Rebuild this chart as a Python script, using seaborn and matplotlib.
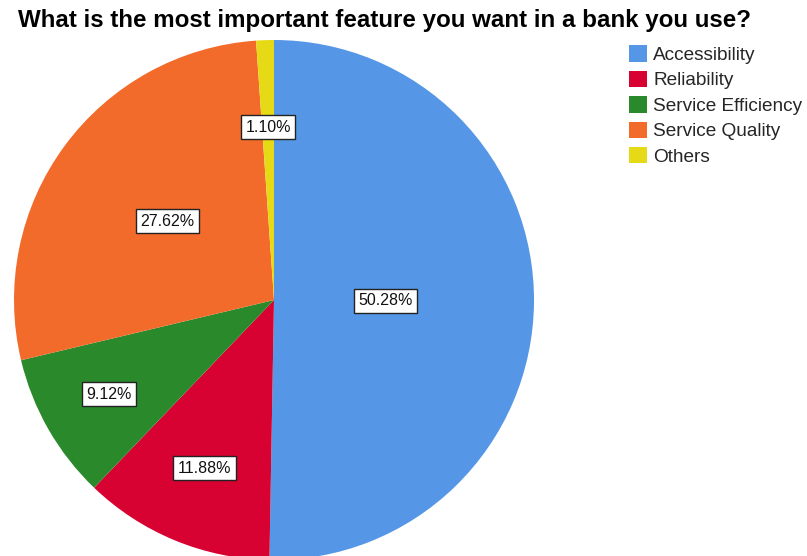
import numpy as np
import matplotlib
matplotlib.use("Agg")
import matplotlib.pyplot as plt
import seaborn as sns

# Survey responses: most important feature in a bank
categories = ["Accessibility", "Reliability", "Service Efficiency", "Service Quality", "Others"]
shares = [50.28, 11.88, 9.12, 27.62, 1.10]
colors = ["#5597E6", "#D70132", "#2A8A2B", "#F26B2B", "#E6DA17"]
# radial placement of each percentage label (fraction of radius)
label_radius = [0.43, 0.70, 0.73, 0.51, 0.665]

sns.set_theme(style="white")
plt.rcParams["font.family"] = ["Liberation Sans", "DejaVu Sans"]

W, H = 807, 556
fig = plt.figure(figsize=(W / 100, H / 100), dpi=100)

cx, cy, r = 274, 300, 260
ax = fig.add_axes([(cx - r) / W, (H - cy - r) / H, 2 * r / W, 2 * r / H])
ax.set_axis_off()

wedges, _ = ax.pie(shares, colors=colors, startangle=90, counterclock=False,
                   wedgeprops=dict(linewidth=0))
ax.set_xlim(-1, 1)
ax.set_ylim(-1, 1)
ax.set_aspect("equal")

for w, val, rad in zip(wedges, shares, label_radius):
    mid = np.deg2rad((w.theta1 + w.theta2) / 2)
    ax.text(rad * np.cos(mid), rad * np.sin(mid), f"{val:.2f}%",
            ha="center", va="center", fontsize=11.5, color="#111111",
            bbox=dict(boxstyle="square,pad=0.28", facecolor="white",
                      edgecolor="#222222", linewidth=1.0))

fig.text(18 / W, 1 - 20 / H, "What is the most important feature you want in a bank you use?",
         ha="left", va="center", fontsize=17.4, fontweight="bold", color="black")

fig.legend(wedges, categories, loc="upper left",
           bbox_to_anchor=(616 / W, 1 - 32 / H), frameon=False,
           fontsize=13.7, handlelength=0.95, handleheight=0.95,
           handletextpad=0.3, labelspacing=0.35, borderpad=0.2)

fig.savefig("out.png", dpi=100)
